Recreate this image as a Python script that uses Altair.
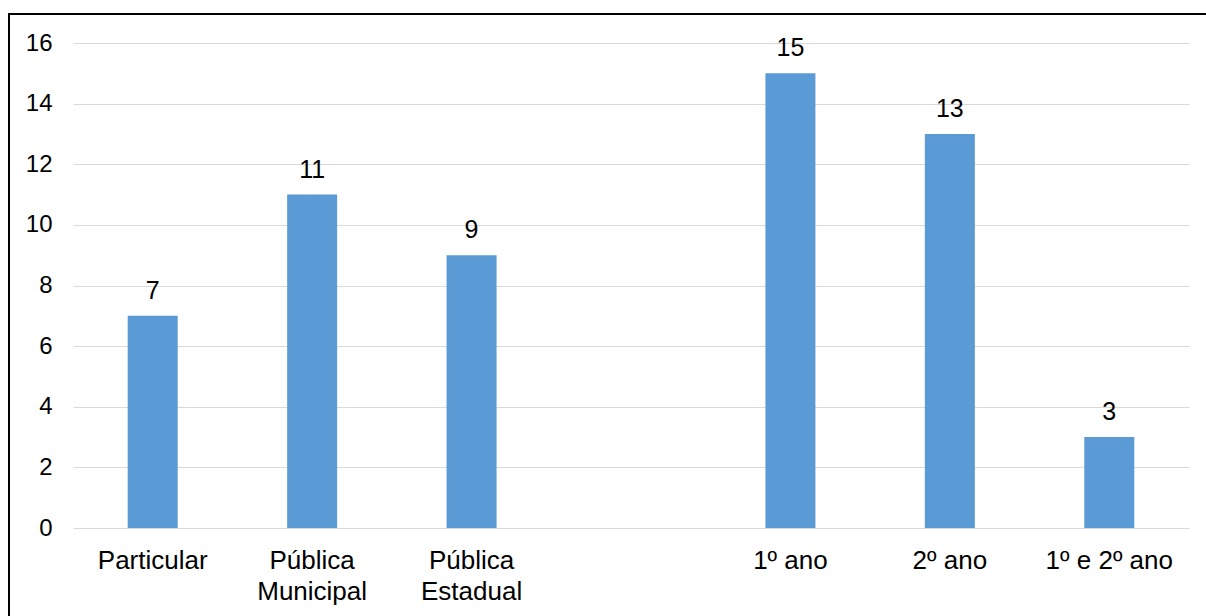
import altair as alt
import pandas as pd

categories = ["Particular", "Pública|Municipal", "Pública|Estadual", "gap",
              "1º ano", "2º ano", "1º e 2º ano"]
bar_categories = ["Particular", "Pública|Municipal", "Pública|Estadual",
                  "1º ano", "2º ano", "1º e 2º ano"]
values = [7, 11, 9, 15, 13, 3]
y_ticks = [0, 2, 4, 6, 8, 10, 12, 14, 16]

df = pd.DataFrame({"cat": bar_categories, "val": values})

W, H = 1116, 485
PL, PT = 73, 43
PR, PB = 1206 - PL - W, 616 - PT - H
FONT = "Liberation Sans"

x_enc = alt.X("cat:N", scale=alt.Scale(domain=categories, paddingInner=0.0, paddingOuter=0.0),
              axis=alt.Axis(title=None, labelExpr="datum.label == 'gap' ? '' : split(datum.label, '|')",
                            labelAngle=0, ticks=False, domain=False, labelPadding=19,
                            labelFontSize=26, labelFont=FONT, labelColor="#000000",
                            labelLineHeight=31, labelBaseline="top"))
y_enc = alt.Y("val:Q", scale=alt.Scale(domain=[0, 16], nice=False),
              axis=alt.Axis(title=None, values=y_ticks, ticks=False, domain=False,
                            labelPadding=21, labelFontSize=24, labelFont=FONT,
                            labelColor="#000000", gridColor="#d9d9d9", gridWidth=1))

bars = alt.Chart(df).mark_bar(color="#5B9BD5", size=50).encode(x=x_enc, y=y_enc)
labels = alt.Chart(df).mark_text(fontSize=25, font=FONT, color="#000000",
                                 baseline="alphabetic", dy=-17).encode(
    x=alt.X("cat:N", scale=alt.Scale(domain=categories)), y="val:Q", text="val:Q")

border = alt.Chart(pd.DataFrame({"a": [0]})).mark_rect(
    fill=None, stroke="#000000", strokeWidth=2).encode(
    x=alt.value(-64), x2=alt.value(1206 - PL + 10),
    y=alt.value(-29), y2=alt.value(616 - PT + 10))

chart = alt.layer(bars, labels, border).properties(
    width=W, height=H,
    autosize=alt.AutoSizeParams(type="none"),
    padding={"left": PL, "top": PT, "right": PR, "bottom": PB},
    background="#ffffff",
).configure_view(stroke=None)

chart.save("out.html", embed_options={"renderer": "svg", "actions": False})
